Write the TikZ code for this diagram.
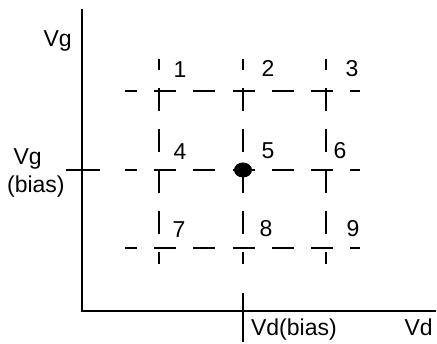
\documentclass[tikz,border=0pt]{standalone}
\usepackage{fontspec}
\setmainfont{Liberation Sans}
\usetikzlibrary{shapes.geometric}
\begin{document}
\begin{tikzpicture}[x=1pt,y=-1pt, line width=1.2pt,
  lbl/.style={font=\fontsize{23}{25}\selectfont, inner sep=0pt},
  hgrid/.style={dash pattern=on 22pt off 17.2pt, dash phase=10pt},
  vgrid/.style={dash pattern=on 23pt off 18pt, dash phase=12pt},
  dot/.style={ellipse, fill=black, minimum width=18pt, minimum height=15pt, inner sep=0pt}]
\useasboundingbox (0,0) rectangle (437,344);
% axes
\coordinate (ytop) at (82,9);
\coordinate (O) at (82,311);
\coordinate (xend) at (436,311);
\draw (ytop) -- (O) -- (xend);
% bias ticks
\coordinate (vgbL) at (66,170);
\coordinate (vgbR) at (100,170);
\draw (vgbL) -- (vgbR);
\coordinate (vdbT) at (243,293);
\coordinate (vdbB) at (243,342);
\draw (vdbT) -- (vdbB);
% grid lines
\foreach \y/\n in {91/1,170/2,248/3} {
  \coordinate (hl\n) at (125,\y);
  \coordinate (hr\n) at (360,\y);
  \draw[hgrid] (hl\n) -- (hr\n);
}
\foreach \x/\n in {159/1,243/2,326/3} {
  \coordinate (vt\n) at (\x,59);
  \coordinate (vb\n) at (\x,264);
  \draw[vgrid] (vt\n) -- (vb\n);
}
% bias point
\node[dot] (bias) at (243,170) {};
% labels
\node[lbl, anchor=base west] (vg) at (43,46.5) {Vg};
\node[lbl, anchor=base west] (vgb1) at (13,165) {Vg};
\node[lbl, anchor=base west] (vgb2) at (6.5,193) {(bias)};
\node[lbl, anchor=base west] (vdb) at (250.5,336) {Vd(bias)};
\node[lbl, anchor=base west] (vd) at (404,336) {Vd};
\node[lbl, anchor=base] (n1) at (180,78) {1};
\node[lbl, anchor=base] (n2) at (268,77) {2};
\node[lbl, anchor=base] (n3) at (352,77) {3};
\node[lbl, anchor=base] (n4) at (180,160) {4};
\node[lbl, anchor=base] (n5) at (268,158.5) {5};
\node[lbl, anchor=base] (n6) at (340,158.5) {6};
\node[lbl, anchor=base] (n7) at (179,238) {7};
\node[lbl, anchor=base] (n8) at (266,237) {8};
\node[lbl, anchor=base] (n9) at (353,237) {9};
\end{tikzpicture}
\end{document}
